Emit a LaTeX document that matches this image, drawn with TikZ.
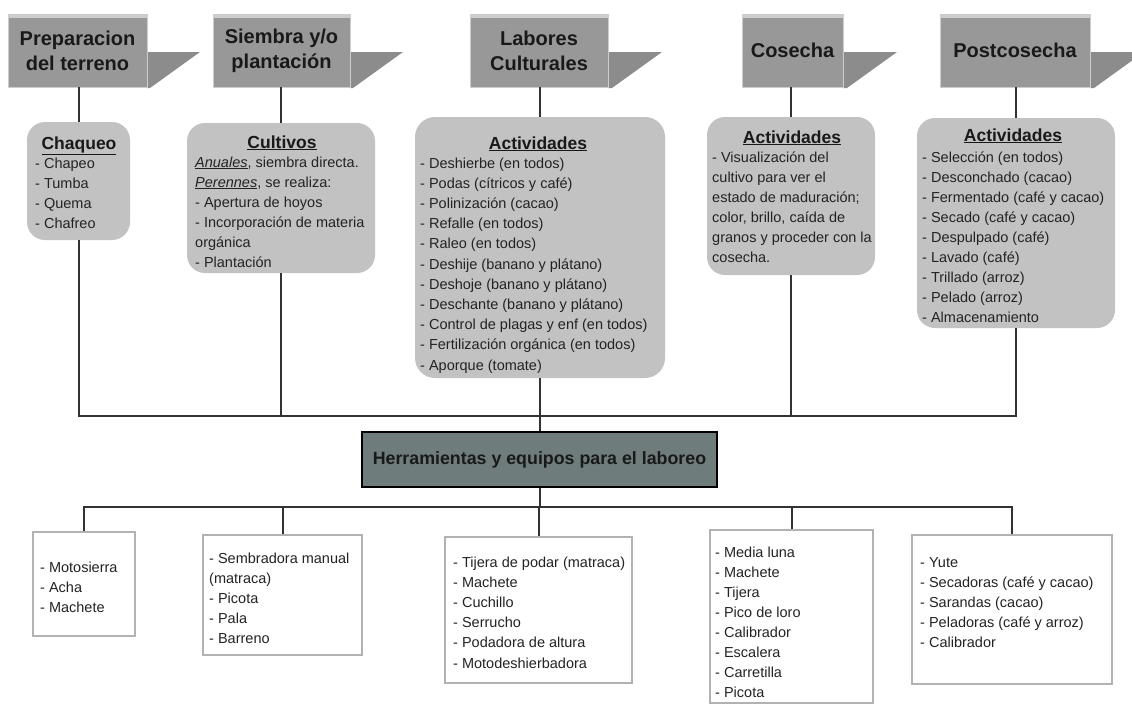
\documentclass[tikz,border=0pt]{standalone}
\usepackage{fontspec}
\setmainfont{Liberation Sans}
\usetikzlibrary{calc}
\definecolor{hdrgray}{RGB}{152,152,152}
\definecolor{hdrlight}{RGB}{205,205,205}
\definecolor{flaggray}{RGB}{140,140,140}
\definecolor{boxgray}{RGB}{194,194,194}
\definecolor{slate}{RGB}{110,124,124}
\definecolor{linec}{RGB}{50,50,50}
\definecolor{tborder}{RGB}{178,178,178}
\definecolor{txtc}{RGB}{35,35,35}
\newcommand\lst[1]{\begin{tabular}[t]{@{}l@{}}#1\end{tabular}}
\begin{document}
\begin{tikzpicture}[x=1pt,y=-1pt,
  hdr/.style={fill=hdrgray, draw=hdrlight, line width=0.8pt, minimum height=73pt, inner sep=0pt,
    font=\bfseries\fontsize{20}{25}\selectfont, align=center, text=black!90,
    path picture={\fill[hdrlight] (path picture bounding box.north west) rectangle ([yshift=-4pt]path picture bounding box.north east);}},
  flag/.style={fill=flaggray},
  rbox/.style={fill=boxgray, rounded corners=18pt, inner sep=0pt},
  tbox/.style={fill=white, draw=tborder, line width=1.5pt, inner sep=0pt},
  hbox/.style={fill=slate, draw=black, line width=1.5pt, inner sep=0pt,
    font=\bfseries\fontsize{17.8}{20}\selectfont, text=black!90},
  ttl/.style={anchor=base, inner sep=0pt, font=\bfseries\fontsize{17.5}{20}\selectfont, text=black!90},
  txt/.style={anchor=base west, inner sep=0pt, font=\fontsize{14.5}{20}\selectfont, text=txtc},
  txtb/.style={anchor=base west, inner sep=0pt, font=\fontsize{14.5}{20.2}\selectfont, text=txtc},
  conn/.style={draw=linec, line width=2pt}
]
\useasboundingbox (0,0) rectangle (1132,704);
\fill[white] (0,0) rectangle (1132,704);

% ---- header flags ----
\begin{scope}
\clip (0,0) rectangle (1132,704);
\fill[flag] (147,52) -- (200,52) -- (150,88) -- (147,88) -- cycle;
\fill[flag] (350,52) -- (403,52) -- (353,88) -- (350,88) -- cycle;
\fill[flag] (608,52) -- (662,52) -- (612,88) -- (608,88) -- cycle;
\fill[flag] (843,52) -- (897,52) -- (847,88) -- (843,88) -- cycle;
\fill[flag] (1090,52) -- (1144,52) -- (1094,88) -- (1090,88) -- cycle;
\end{scope}

% ---- headers ----
\node[hdr, minimum width=139pt] (h1) at (77.5,50.5) {Preparacion\\del terreno};
\node[hdr, minimum width=137pt] (h2) at (281.5,50.5) {Siembra y/o\\plantación};
\node[hdr, minimum width=138pt] (h3) at (539,50.5) {Labores\\Culturales};
\node[hdr, minimum width=101pt] (h4) at (792.5,50.5) {Cosecha};
\node[hdr, minimum width=150pt] (h5) at (1015,50.5) {Postcosecha};

% ---- rounded activity boxes ----
\node[rbox, minimum width=103pt, minimum height=118pt] (b1) at (78.5,181) {};
\node[rbox, minimum width=188pt, minimum height=150pt] (b2) at (281,198) {};
\node[rbox, minimum width=250pt, minimum height=261pt, rounded corners=20pt] (b3) at (540,247.5) {};
\node[rbox, minimum width=168pt, minimum height=158pt] (b4) at (791,196) {};
\node[rbox, minimum width=198pt, minimum height=210pt] (b5) at (1016,223) {};

\node[ttl] (b1t) at (79,149) {\underline{Chaqueo}};
\node[txt] (b1x) at (35,168) {\lst{- Chapeo\\- Tumba\\- Quema\\- Chafreo}};

\node[ttl] (b2t) at (282,148) {\underline{Cultivos}};
\node[txt] (b2x) at (195,167) {\lst{\underline{\textit{Anuales}}, siembra directa.\\\underline{\textit{Perennes}}, se realiza:\\- Apertura de hoyos\\- Incorporación de materia\\orgánica\\- Plantación}};

\node[ttl] (b3t) at (538,149) {\underline{Actividades}};
\node[txtb] (b3x) at (420,168) {\lst{- Deshierbe (en todos)\\- Podas (cítricos y café)\\- Polinización (cacao)\\- Refalle (en todos)\\- Raleo (en todos)\\- Deshije (banano y plátano)\\- Deshoje (banano y plátano)\\- Deschante (banano y plátano)\\- Control de plagas y enf (en todos)\\- Fertilización orgánica (en todos)\\- Aporque (tomate)}};

\node[ttl] (b4t) at (792,143) {\underline{Actividades}};
\node[txt] (b4x) at (712,162) {\lst{- Visualización del\\cultivo para ver el\\estado de maduración;\\color, brillo, caída de\\granos y proceder con la\\cosecha.}};

\node[ttl] (b5t) at (1013,141) {\underline{Actividades}};
\node[txt] (b5x) at (922,162) {\lst{- Selección (en todos)\\- Desconchado (cacao)\\- Fermentado (café y cacao)\\- Secado (café y cacao)\\- Despulpado (café)\\- Lavado (café)\\- Trillado (arroz)\\- Pelado (arroz)\\- Almacenamiento}};

% ---- central box ----
\node[hbox, minimum width=355pt, minimum height=55pt] (H) at (539.5,459.5) {Herramientas y equipos para el laboreo};

% ---- tool boxes ----
\node[tbox, minimum width=102pt, minimum height=104pt] (t1) at (84,584) {};
\node[tbox, minimum width=159pt, minimum height=120pt] (t2) at (282.5,595) {};
\node[tbox, minimum width=187pt, minimum height=146pt] (t3) at (538.5,610) {};
\node[tbox, minimum width=163pt, minimum height=173pt] (t4) at (791.5,616.5) {};
\node[tbox, minimum width=200pt, minimum height=149pt] (t5) at (1012,609.5) {};

\node[txt] (t1x) at (40,572) {\lst{- Motosierra\\- Acha\\- Machete}};
\node[txt] (t2x) at (209,563) {\lst{- Sembradora manual\\(matraca)\\- Picota\\- Pala\\- Barreno}};
\node[txtb] (t3x) at (453,567) {\lst{- Tijera de podar (matraca)\\- Machete\\- Cuchillo\\- Serrucho\\- Podadora de altura\\- Motodeshierbadora}};
\node[txt] (t4x) at (715,557) {\lst{- Media luna\\- Machete\\- Tijera\\- Pico de loro\\- Calibrador\\- Escalera\\- Carretilla\\- Picota}};
\node[txt] (t5x) at (920,567) {\lst{- Yute\\- Secadoras (café y cacao)\\- Sarandas (cacao)\\- Peladoras (café y arroz)\\- Calibrador}};

% ---- connectors: headers to boxes ----
\draw[conn] (h1.south -| b1.north) -- (b1.north);
\draw[conn] (h2.south -| b2.north) -- (b2.north);
\draw[conn] (h3.south -| b3.north) -- (b3.north);
\draw[conn] (h4.south -| b4.north) -- (b4.north);
\draw[conn] (h5.south -| b5.north) -- (b5.north);

% ---- upper bus ----
\coordinate (ub) at (0,416);
\draw[conn] (b1.south) -- (b1.south |- ub) -- (b5.south |- ub) -- (b5.south);
\draw[conn] (b2.south) -- (b2.south |- ub);
\draw[conn] (b4.south) -- (b4.south |- ub);
\draw[conn] (b3.south) -- (b3.south |- H.north);

% ---- lower bus ----
\coordinate (lb) at (0,507);
\draw[conn] (t1.north) -- (t1.north |- lb) -- (t5.north |- lb) -- (t5.north);
\draw[conn] (H.south) -- (H.south |- lb);
\draw[conn] (t2.north) -- (t2.north |- lb);
\draw[conn] (t3.north) -- (t3.north |- lb);
\draw[conn] (t4.north) -- (t4.north |- lb);
\end{tikzpicture}
\end{document}
